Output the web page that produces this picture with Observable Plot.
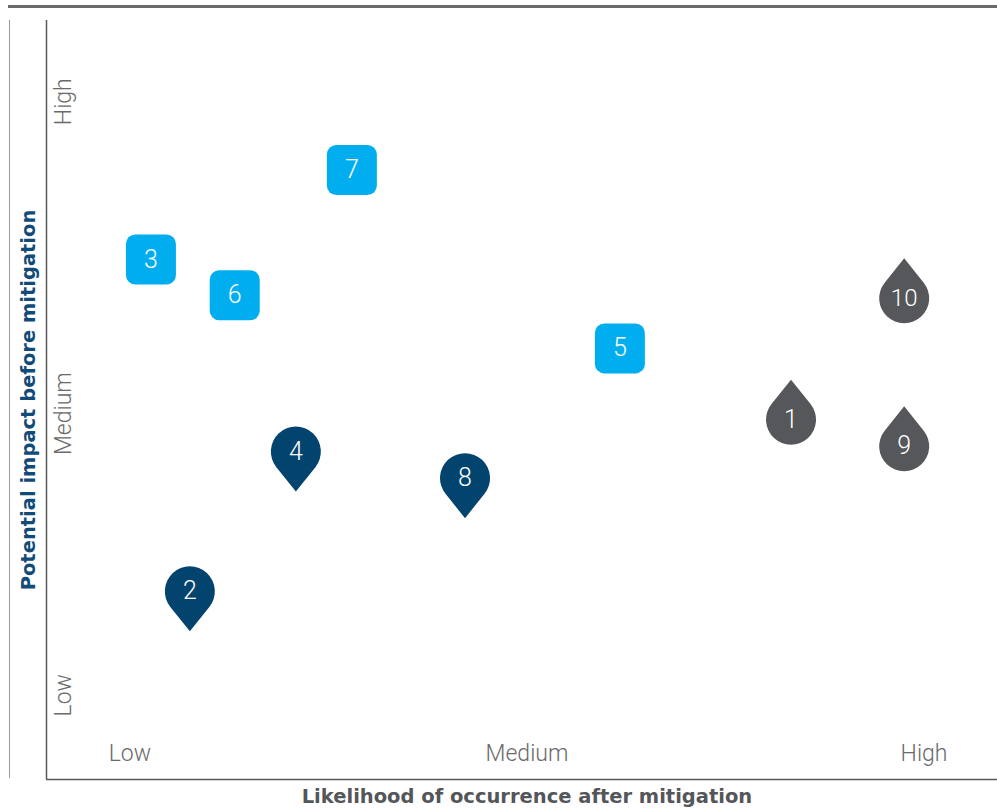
<!DOCTYPE html>
<html>
<head>
<meta charset="utf-8">
<script src="https://cdn.jsdelivr.net/npm/d3@7"></script>
<script src="https://cdn.jsdelivr.net/npm/@observablehq/plot@0.6"></script>
<style>
  html, body { margin: 0; padding: 0; background: #fff; }
  #wrap { position: relative; width: 997px; height: 810px; overflow: hidden; background: #fff; }
  #chart { position: absolute; left: 0; top: 0; }
  #topline { position: absolute; left: 8px; right: 0; top: 5px; height: 2.5px; background: #6a6a6a; z-index: 2; }
  #leftline { position: absolute; left: 9px; top: 20px; width: 1px; height: 758px; background: #9a9a9a; z-index: 2; }
</style>
</head>
<body>
<div id="wrap">
  <div id="chart"></div>
  <div id="topline"></div>
  <div id="leftline"></div>
</div>
<script>
// ---- data ----
const ids        = ["1", "2", "3", "4", "5", "6", "7", "8", "9", "10"];
const likelihood = [2.665, 1.151, 1.053, 1.418, 2.234, 1.264, 1.559, 1.844, 2.950, 2.950];
const impact     = [4.74, 2.48, 6.85, 4.32, 5.68, 6.38, 8.03, 3.97, 4.39, 6.34];
const groups     = ["drop", "pin", "square", "pin", "square", "square", "square", "pin", "drop", "drop"];

const xTickLabels = ["Low", "Medium", "High"];
const xTickValues = [1, 2, 3];
const yTickLabels = ["Low", "Medium", "High"];
const yTickValues = [1.11, 4.82, 8.93];

const xTitle = "Likelihood of occurrence after mitigation";
const yTitle = "Potential impact before mitigation";

const colors = { square: "#00AEEF", pin: "#03446F", drop: "#55575B" };

const data = ids.map((id, i) => ({ id, x: likelihood[i], y: impact[i], g: groups[i] }));

// ---- custom symbols ----
const roundSquare = {
  draw(ctx, size) {
    const r = Math.sqrt(size / Math.PI);
    const c = r * 0.38;
    ctx.moveTo(-r + c, -r);
    ctx.lineTo(r - c, -r);
    ctx.arcTo(r, -r, r, -r + c, c);
    ctx.lineTo(r, r - c);
    ctx.arcTo(r, r, r - c, r, c);
    ctx.lineTo(-r + c, r);
    ctx.arcTo(-r, r, -r, r - c, c);
    ctx.lineTo(-r, -r + c);
    ctx.arcTo(-r, -r, -r + c, -r, c);
    ctx.closePath();
  }
};
const pinDown = {
  draw(ctx, size) {
    const r = Math.sqrt(size / Math.PI);
    const d = r * 1.6;
    const a = Math.acos(r / d);
    ctx.moveTo(0, d);
    ctx.lineTo(r * Math.cos(Math.PI / 2 + a), r * Math.sin(Math.PI / 2 + a));
    ctx.arc(0, 0, r, Math.PI / 2 + a, Math.PI / 2 - a + 2 * Math.PI, false);
    ctx.closePath();
  }
};
const dropUp = {
  draw(ctx, size) {
    const r = Math.sqrt(size / Math.PI);
    const d = r * 1.6;
    const a = Math.acos(r / d);
    ctx.moveTo(0, -d);
    ctx.lineTo(r * Math.cos(-Math.PI / 2 + a), r * Math.sin(-Math.PI / 2 + a));
    ctx.arc(0, 0, r, -Math.PI / 2 + a, 3 * Math.PI / 2 - a, false);
    ctx.closePath();
  }
};
const symbols = { square: roundSquare, pin: pinDown, drop: dropUp };

const xDomain = [0.79, 3.185];
const yDomain = [0, 10];
const titleFont = "'DejaVu Sans', 'Liberation Sans', sans-serif";

const chart = Plot.plot({
  width: 997,
  height: 810,
  marginTop: 20,
  marginLeft: 46,
  marginRight: 0,
  marginBottom: 31,
  x: { domain: xDomain, axis: null },
  y: { domain: yDomain, axis: null },
  style: { fontFamily: "Roboto, 'Noto Sans', sans-serif", background: "transparent" },
  marks: [
    Plot.ruleX([xDomain[0]], { stroke: "#5a5a5a", strokeWidth: 1.5 }),
    Plot.ruleY([yDomain[0]], { stroke: "#5a5a5a", strokeWidth: 1.5 }),
    // tick labels
    Plot.text(xTickValues, {
      x: d => d, text: (d, i) => xTickLabels[i], frameAnchor: "bottom", dy: -19,
      fontSize: 23, fontWeight: 300, fill: "#6a6a6a"
    }),
    Plot.text(yTickValues, {
      y: d => d, text: (d, i) => yTickLabels[i], frameAnchor: "left", textAnchor: "middle",
      dx: 17, rotate: -90, fontSize: 23, fontWeight: 300, fill: "#6a6a6a"
    }),
    // axis titles
    Plot.text([xTitle], {
      x: 2, text: d => d, frameAnchor: "bottom", dy: 23,
      fontSize: 19.5, fontWeight: "bold", fill: "#54565A", fontFamily: titleFont
    }),
    Plot.text([yTitle], {
      text: d => d, frameAnchor: "left", textAnchor: "middle", dx: -18, rotate: -90,
      fontSize: 19.5, fontWeight: "bold", fill: "#124A78", fontFamily: titleFont
    }),
    // markers
    ...Object.keys(symbols).map(g =>
      Plot.dot(data.filter(d => d.g === g), {
        x: "x", y: "y", r: 25, symbol: symbols[g], fill: colors[g], stroke: null
      })
    ),
    Plot.text(data, {
      x: "x", y: "y", text: "id", fill: "#fff",
      fontSize: d => d.id.length > 1 ? 24 : 25, fontWeight: 300
    })
  ]
});

document.getElementById("chart").appendChild(chart);
</script>
</body>
</html>
